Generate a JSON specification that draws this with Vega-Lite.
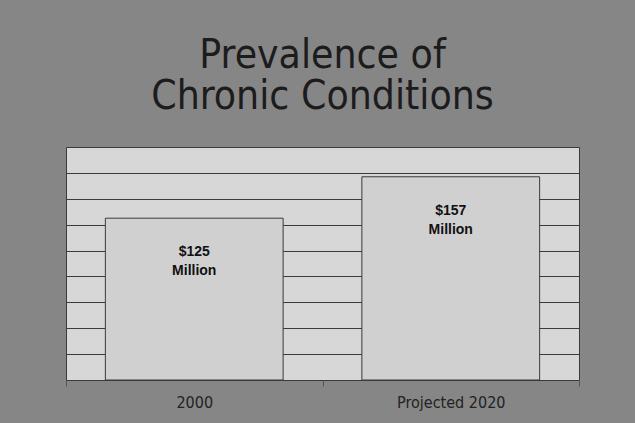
{
  "$schema": "https://vega.github.io/schema/vega-lite/v6.json",
  "width": 513,
  "height": 233,
  "autosize": {"type": "none"},
  "padding": {"left": 66, "top": 147, "right": 56, "bottom": 43},
  "background": "#868686",
  "title": {
    "text": ["Prevalence of", "Chronic Conditions"],
    "font": "DejaVu Sans Condensed",
    "fontSize": 40.5,
    "fontWeight": "normal",
    "color": "#1c1c1c",
    "anchor": "middle",
    "frame": "group",
    "lineHeight": 41,
    "offset": 40,
    "dy": 42,
    "baseline": "alphabetic"
  },
  "data": {
    "values": [
      {"period": "2000", "value": 125, "label": "$125\nMillion"},
      {"period": "Projected 2020", "value": 157, "label": "$157\nMillion"}
    ]
  },
  "encoding": {
    "x": {
      "field": "period",
      "type": "nominal",
      "sort": null,
      "scale": {"paddingInner": 0, "paddingOuter": 0},
      "axis": {
        "title": null,
        "labelAngle": 0,
        "labelFont": "DejaVu Sans Condensed",
        "labelFontSize": 16,
        "labelColor": "#222222",
        "tickBand": "extent",
        "tickColor": "#555555",
        "tickSize": 6,
        "domain": false,
        "grid": false,
        "labelPadding": 8
      }
    },
    "y": {
      "field": "value",
      "type": "quantitative",
      "scale": {"domain": [0, 180], "nice": false},
      "axis": {
        "values": [20, 40, 60, 80, 100, 120, 140, 160],
        "grid": true,
        "gridColor": "#3a3a3a",
        "gridOpacity": 1,
        "gridWidth": 1,
        "labels": false,
        "ticks": false,
        "domain": false,
        "title": null
      }
    }
  },
  "layer": [
    {
      "mark": {"type": "bar", "width": {"band": 0.693}, "fill": "#d0d0d0", "stroke": "#3a3a3a", "strokeWidth": 1}
    },
    {
      "mark": {"type": "text", "font": "Liberation Sans", "fontWeight": "bold", "fontSize": 14, "color": "#111111", "lineBreak": "\n", "lineHeight": 19, "baseline": "alphabetic", "align": "center", "dy": 38},
      "encoding": {
        "text": {"field": "label"}
      }
    }
  ],
  "config": {
    "view": {"fill": "#d7d7d7", "stroke": "#3a3a3a", "strokeWidth": 1}
  }
}
